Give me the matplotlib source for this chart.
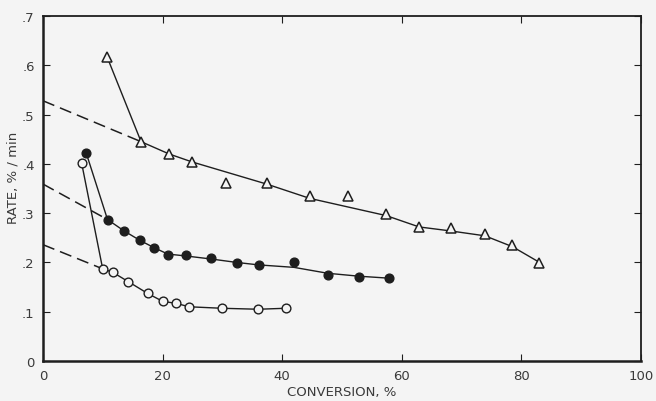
import matplotlib.pyplot as plt

# triangles
tri_x = [10.75, 16.4, 21.1, 24.9, 30.6, 37.4, 44.6, 51.0, 57.3, 62.9, 68.2, 73.9, 78.5, 82.9]
tri_y = [0.616, 0.445, 0.419, 0.403, 0.362, 0.362, 0.334, 0.334, 0.298, 0.271, 0.269, 0.258, 0.235, 0.198]
tri_fit_x = [10.75, 16.4, 21.1, 24.9, 37.4, 44.6, 57.4, 62.9, 68.1, 73.9, 78.5, 82.9]
tri_fit_y = [0.616, 0.445, 0.420, 0.404, 0.359, 0.330, 0.295, 0.272, 0.264, 0.254, 0.232, 0.201]
tri_dash_x = [0, 16.4]
tri_dash_y = [0.528, 0.445]

# filled circles
fill_x = [7.2, 10.79, 13.55, 16.17, 18.56, 20.87, 23.96, 28.09, 32.39, 36.04, 41.97, 47.61, 52.89, 57.91]
fill_y = [0.423, 0.287, 0.264, 0.245, 0.230, 0.216, 0.215, 0.208, 0.199, 0.194, 0.201, 0.175, 0.171, 0.168]
fill_fit_x = [7.2, 10.79, 13.55, 16.17, 18.56, 20.87, 23.96, 28.09, 32.39, 36.04, 41.97, 47.61, 52.89, 57.91]
fill_fit_y = [0.423, 0.287, 0.264, 0.245, 0.230, 0.217, 0.213, 0.207, 0.200, 0.195, 0.190, 0.178, 0.172, 0.168]
fill_dash_x = [0, 10.79]
fill_dash_y = [0.359, 0.287]

# open circles
open_x = [6.47, 9.98, 11.66, 14.26, 17.51, 20.02, 22.24, 24.46, 29.88, 36.0, 40.59]
open_y = [0.401, 0.187, 0.180, 0.161, 0.137, 0.121, 0.117, 0.110, 0.107, 0.105, 0.107]
open_dash_x = [0, 9.98]
open_dash_y = [0.236, 0.187]

xticks = [0, 20, 40, 60, 80, 100]
xtick_labels = ['0', '20', '40', '60', '80', '100']
yticks = [0, 0.1, 0.2, 0.3, 0.4, 0.5, 0.6, 0.7]
ytick_labels = ['0', '.1', '.2', '.3', '.4', '.5', '.6', '.7']

ink = '#1e1e1e'
txt = '#3a3a3a'
bg = '#f4f4f4'

fig = plt.figure(figsize=(6.56, 4.02), dpi=100, facecolor=bg)
ax = fig.add_axes([43 / 656, 1 - 362 / 402, 598 / 656, 345 / 402], facecolor=bg)

dash = dict(color=ink, lw=1.1, dashes=(8, 4))
ax.plot(tri_dash_x, tri_dash_y, **dash)
ax.plot(fill_dash_x, fill_dash_y, **dash)
ax.plot(open_dash_x, open_dash_y, **dash)

ax.plot(tri_fit_x, tri_fit_y, color=ink, lw=1.0)
ax.plot(fill_fit_x, fill_fit_y, color=ink, lw=1.0)
ax.plot(open_x, open_y, color=ink, lw=1.0)

ax.plot(tri_x, tri_y, ls='none', marker='^', ms=7, mfc=bg, mec=ink, mew=1.1)
ax.plot(fill_x, fill_y, ls='none', marker='o', ms=6.3, mfc=ink, mec=ink, mew=1.0)
ax.plot(open_x, open_y, ls='none', marker='o', ms=6.3, mfc=bg, mec=ink, mew=1.0)

ax.set_xlim(0, 100)
ax.set_ylim(0, 0.7)
ax.set_xticks(xticks, xtick_labels)
ax.set_yticks(yticks, ytick_labels)
ax.tick_params(direction='in', length=5, width=0.8, color=ink, labelsize=9.5,
               labelcolor=txt, top=True, right=True, pad=6)
for side, lw in [('left', 1.8), ('bottom', 1.8), ('top', 1.3), ('right', 1.3)]:
    ax.spines[side].set_linewidth(lw)
    ax.spines[side].set_color(ink)

ax.set_xlabel('CONVERSION, %', fontsize=9.5, color=txt)
ax.set_ylabel('RATE, % / min', fontsize=9.5, color=txt)
ax.xaxis.set_label_coords(0.5, -0.07)
ax.yaxis.set_label_coords(-0.04, 0.533)

fig.savefig('out.png', dpi=100, facecolor=bg)
